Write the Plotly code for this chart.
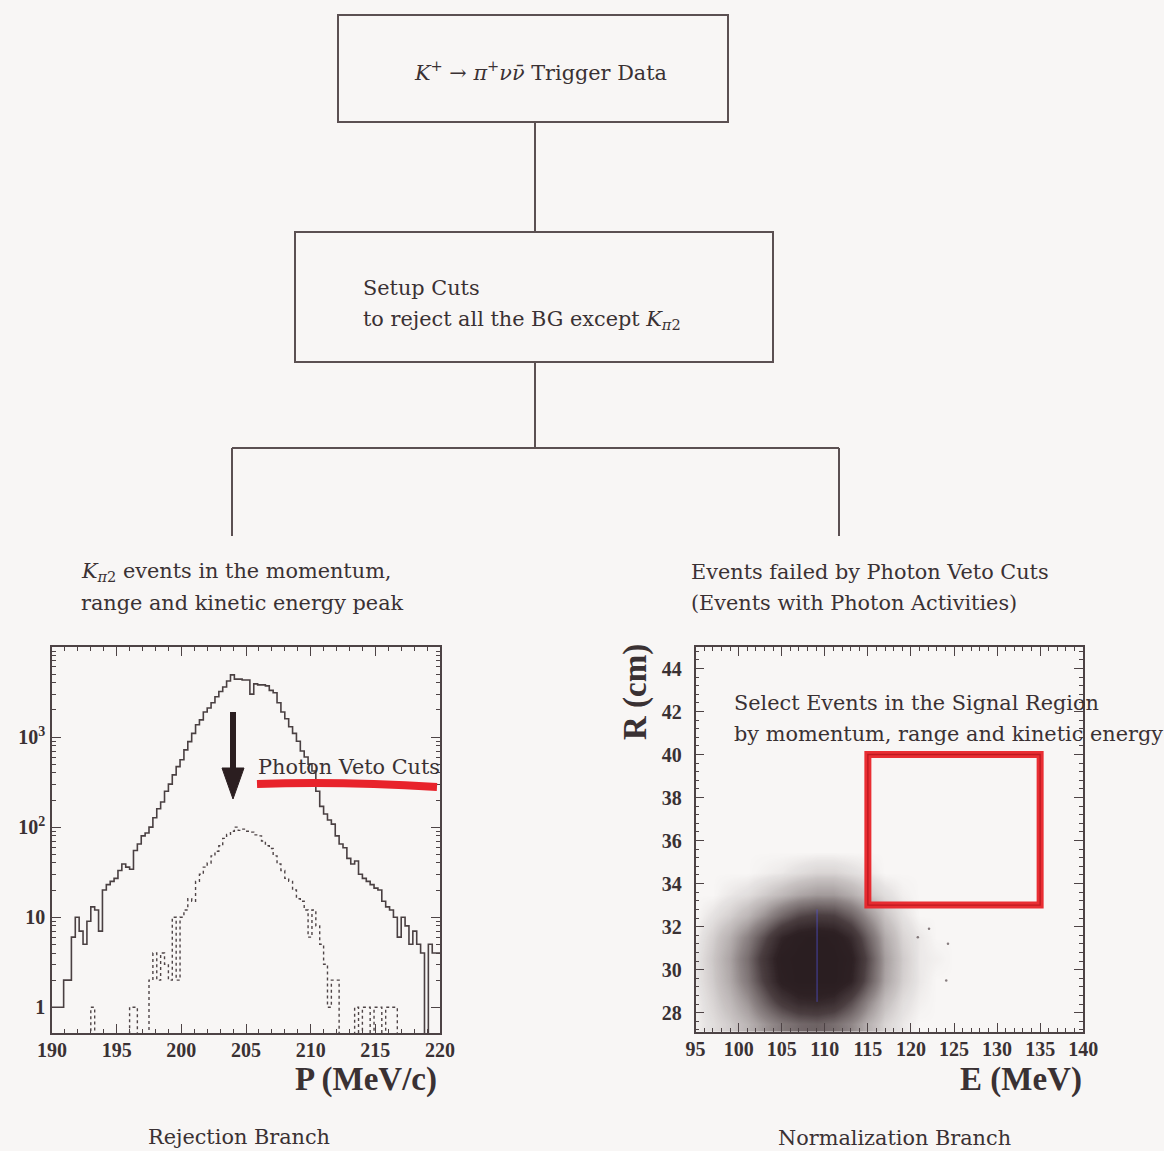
import plotly.graph_objects as go

# ---------------------------------------------------------------------------
# Data
# ---------------------------------------------------------------------------
# Momentum histogram: 100 bins of 0.3 MeV/c between 190 and 220 MeV/c
P_MIN, P_BIN = 190.0, 0.3
# K_pi2 peak before the photon veto cuts (counts per bin)
K_PI2_ALL = [
    1, 1, 1, 2, 2, 6, 10, 7, 5, 9,
    13, 12, 7, 20, 23, 25, 27, 33, 39, 36,
    34, 55, 65, 80, 86, 100, 127, 160, 190, 250,
    300, 380, 470, 560, 720, 890, 1100, 1370, 1550, 1900,
    2100, 2400, 2800, 3200, 3600, 4200, 4900, 4400, 4400, 4300,
    4300, 3000, 3900, 3800, 3800, 3700, 3300, 3100, 2400, 1900,
    1600, 1300, 1100, 900, 700, 600, 500, 420, 250, 170,
    140, 120, 108, 80, 65, 59, 45, 39, 42, 30,
    27, 25, 23, 21, 20, 15, 13, 12, 10, 6,
    10, 8, 5, 7, 5, 4, 0, 5, 4, 4,
]
# Events surviving the photon veto cuts (counts per bin)
K_PI2_PV = [
    0, 0, 0, 0, 0, 0, 0, 0, 0, 0,
    1, 0, 0, 0, 0, 0, 0, 0, 0, 0,
    1, 1, 0, 0, 0, 2, 4, 2, 4, 3,
    2, 10, 2, 10, 12, 16, 15, 25, 30, 36,
    40, 48, 54, 62, 75, 83, 90, 100, 92, 95,
    90, 88, 82, 80, 70, 62, 58, 48, 39, 33,
    27, 25, 20, 16, 15, 12, 6, 12, 8, 5,
    3, 1, 2, 2, 0, 0, 0, 0, 1, 0,
    1, 1, 0, 1, 1, 0, 1, 1, 1, 0,
    0, 0, 0, 0, 0, 0, 0, 0, 0, 0,
]

# Normalization branch: relative event density in the (E, R) plane
E_CENTERS = [95, 97, 99, 101, 103, 105, 107, 109, 111, 113, 115, 117, 119, 121, 123, 125]
R_CENTERS = [27.5, 28.5, 29.5, 30.5, 31.5, 32.5, 33.5, 34.5, 35.5]
DENSITY = [
    [0.01, 0.04, 0.08, 0.15, 0.25, 0.35, 0.42, 0.45, 0.40, 0.30, 0.16, 0.06, 0.02, 0, 0, 0],
    [0.01, 0.06, 0.13, 0.25, 0.45, 0.65, 0.78, 0.80, 0.75, 0.55, 0.30, 0.12, 0.04, 0.01, 0, 0],
    [0.02, 0.08, 0.18, 0.36, 0.62, 0.90, 1.00, 1.00, 1.00, 0.85, 0.50, 0.20, 0.07, 0.02, 0, 0],
    [0.02, 0.09, 0.20, 0.40, 0.68, 0.95, 1.00, 1.00, 1.00, 0.90, 0.55, 0.22, 0.08, 0.02, 0.01, 0],
    [0.01, 0.07, 0.16, 0.32, 0.55, 0.82, 0.96, 1.00, 0.96, 0.78, 0.45, 0.18, 0.06, 0.02, 0, 0],
    [0, 0.03, 0.07, 0.14, 0.26, 0.42, 0.56, 0.62, 0.60, 0.46, 0.26, 0.10, 0.03, 0, 0, 0],
    [0, 0, 0.02, 0.04, 0.08, 0.13, 0.19, 0.23, 0.23, 0.17, 0.09, 0.04, 0.01, 0, 0, 0],
    [0, 0, 0, 0, 0.01, 0.02, 0.04, 0.06, 0.06, 0.04, 0.02, 0, 0, 0, 0, 0],
    [0, 0, 0, 0, 0, 0, 0, 0, 0, 0, 0, 0, 0, 0, 0, 0],
]
# isolated events away from the main cluster
OUTLIER_E = [120.8, 122.1, 124.3, 124.1]
OUTLIER_R = [31.5, 31.9, 31.2, 29.5]
# reference line through the cluster
MARK_E = [109.1, 109.1]
MARK_R = [28.5, 32.8]
# signal region box
SIGNAL_E = [115, 135]
SIGNAL_R = [33, 40]

# Axis ticks
P_TICKS = [190, 195, 200, 205, 210, 215, 220]
COUNT_TICKS = [1, 10, 100, 1000]
COUNT_LABELS = ["1", "10", "10<sup>2</sup>", "10<sup>3</sup>"]
E_TICKS = [95, 100, 105, 110, 115, 120, 125, 130, 135, 140]
R_TICKS = [28, 30, 32, 34, 36, 38, 40, 42, 44]

# ---------------------------------------------------------------------------
# Page geometry (pixels)
# ---------------------------------------------------------------------------
W, H = 1164, 1151
BG = "#f8f6f5"
INK = "#3a3133"
FRAME = "#4d4345"
BODY = "DejaVu Serif"
BOLD = "Liberation Serif"


def px(x):
    return x / W


def py(y):
    return 1 - y / H


fig = go.Figure()

# ---------------------------------------------------------------------------
# Histogram (left)
# ---------------------------------------------------------------------------
edges = [P_MIN + P_BIN * i for i in range(len(K_PI2_ALL) + 1)]


def step(values):
    floor = 0.05  # empty bins fall below the axis
    ys = [v if v > 0 else floor for v in values]
    return edges, ys + [ys[-1]]


xs, ys = step(K_PI2_ALL)
fig.add_trace(go.Scatter(x=xs, y=ys, mode="lines", line=dict(shape="hv", color="#4a4042", width=1.6),
                         xaxis="x", yaxis="y", showlegend=False, hoverinfo="skip"))
xs, ys = step(K_PI2_PV)
fig.add_trace(go.Scatter(x=xs, y=ys, mode="lines", line=dict(shape="hv", color="#4f4547", width=1.4, dash="dot"),
                         xaxis="x", yaxis="y", showlegend=False, hoverinfo="skip"))

# ---------------------------------------------------------------------------
# E vs R density (right)
# ---------------------------------------------------------------------------
fig.add_trace(go.Heatmap(
    x=E_CENTERS, y=R_CENTERS, z=DENSITY, zsmooth="best", zmin=0, zmax=1,
    colorscale=[[0, "rgba(60,44,46,0)"], [0.03, "rgba(60,44,46,0.1)"], [0.1, "rgba(58,42,44,0.25)"],
                [0.3, "rgba(55,40,42,0.55)"], [0.6, "rgba(50,36,39,0.88)"], [0.85, "rgb(46,33,36)"],
                [1, "rgb(42,30,33)"]],
    showscale=False, xaxis="x2", yaxis="y2", hoverinfo="skip"))
fig.add_trace(go.Scatter(x=OUTLIER_E, y=OUTLIER_R, mode="markers",
                         marker=dict(size=2.5, color="rgba(60,45,48,0.6)"),
                         xaxis="x2", yaxis="y2", showlegend=False, hoverinfo="skip"))
fig.add_trace(go.Scatter(x=MARK_E, y=MARK_R, mode="lines", line=dict(color="rgba(80,80,210,0.75)", width=1),
                         xaxis="x2", yaxis="y2", showlegend=False, hoverinfo="skip"))

# ---------------------------------------------------------------------------
# Axes
# ---------------------------------------------------------------------------
tickfont = dict(family=BOLD, size=20, color=INK, weight="bold")
common = dict(showline=True, linecolor=FRAME, linewidth=1.5, mirror="allticks", ticks="inside",
              tickcolor=FRAME, showgrid=False, zeroline=False, tickfont=tickfont, automargin=False)

minor_counts = [m * 10 ** d for d in range(0, 4) for m in range(2, 10)]

fig.update_layout(
    width=W, height=H, margin=dict(l=0, r=0, t=0, b=0, pad=0, autoexpand=False),
    paper_bgcolor=BG, plot_bgcolor=BG, showlegend=False,
    xaxis=dict(domain=[px(52), px(440)], anchor="y", range=[190, 220], tickvals=P_TICKS,
               ticklen=9, ticklabelstandoff=-2,
               minor=dict(dtick=1, ticks="inside", ticklen=4, tickcolor=FRAME), **common),
    yaxis=dict(domain=[py(1033), py(647)], anchor="x", type="log", range=[-0.286, 4.0],
               tickvals=COUNT_TICKS, ticktext=COUNT_LABELS, ticklen=9, ticklabelstandoff=1,
               minor=dict(tickvals=minor_counts, ticks="inside", ticklen=4, tickcolor=FRAME), **common),
    xaxis2=dict(domain=[px(695.6), px(1083.2)], anchor="y2", range=[95, 140], tickvals=E_TICKS,
                ticklen=9, ticklabelstandoff=-2,
                minor=dict(dtick=1, ticks="inside", ticklen=4, tickcolor=FRAME), **common),
    yaxis2=dict(domain=[py(1032), py(647)], anchor="x2", range=[27.1, 45.0], tickvals=R_TICKS,
                ticklen=9, ticklabelstandoff=8,
                minor=dict(dtick=0.4, ticks="inside", ticklen=4, tickcolor=FRAME), **common),
)

# ---------------------------------------------------------------------------
# Flowchart boxes and connectors
# ---------------------------------------------------------------------------
shapes = []
line_style = dict(color="#5b5052", width=2)


def box(x0, y0, x1, y1):
    shapes.append(dict(type="rect", xref="paper", yref="paper", x0=px(x0), y0=py(y1), x1=px(x1), y1=py(y0),
                       line=line_style, fillcolor="rgba(0,0,0,0)"))


def seg(x0, y0, x1, y1, **kw):
    shapes.append(dict(type="line", xref="paper", yref="paper", x0=px(x0), y0=py(y0), x1=px(x1), y1=py(y1),
                       line=kw.get("line", line_style)))


box(338, 15, 728, 122)
box(295, 232, 773, 362)
seg(535, 122, 535, 232)
seg(535, 362, 535, 448)
seg(232, 448, 839, 448)
seg(232, 448, 232, 536)
seg(839, 448, 839, 536)

# arrow towards the veto-cut histogram
seg(233, 712, 233, 775, line=dict(color="#2b1e20", width=6))
shapes.append(dict(type="path", xref="paper", yref="paper",
                   path=f"M {px(222)},{py(768)} L {px(244)},{py(768)} L {px(233)},{py(799)} Z",
                   fillcolor="#2b1e20", line=dict(color="#2b1e20", width=1)))

# red underline of the veto label
shapes.append(dict(type="path", xref="paper", yref="paper",
                   path=f"M {px(257)},{py(784)} Q {px(340)},{py(781)} {px(437)},{py(787)}",
                   line=dict(color="#e8232b", width=8)))

# signal region box
for w, c in [(7, "rgba(232,35,40,0.95)"), (1.4, "rgba(180,20,28,0.8)")]:
    shapes.append(dict(type="rect", xref="x2", yref="y2", x0=SIGNAL_E[0], x1=SIGNAL_E[1],
                       y0=SIGNAL_R[0], y1=SIGNAL_R[1], line=dict(color=c, width=w)))

fig.update_layout(shapes=shapes)

# ---------------------------------------------------------------------------
# Text
# ---------------------------------------------------------------------------
ann = []
body = dict(family=BODY, size=20.8, color=INK)


def text(x, y, s, anchor="left", font=body, angle=0):
    ann.append(dict(x=px(x), y=py(y), xref="paper", yref="paper", text=s, showarrow=False,
                    xanchor=anchor, yanchor="middle", font=font, textangle=angle))


text(540, 71, "<i>K</i><sup>+</sup> → <i>π</i><sup>+</sup><i>ν</i><i>ν̄</i> Trigger Data", anchor="center")
text(361, 288, "Setup Cuts")
text(361, 320, "to reject all the BG except <i>K</i><sub><i>π</i>2</sub>")
text(79, 572, "<i>K</i><sub><i>π</i>2</sub> events in the momentum,")
text(79, 603, "range and kinetic energy peak")
text(689, 572, "Events failed by Photon Veto Cuts")
text(689, 603, "(Events with Photon Activities)")
text(256, 767, "Photon Veto Cuts")
text(732, 703, "Select Events in the Signal Region")
text(732, 734, "by momentum, range and kinetic energy")
text(239, 1137, "Rejection Branch", anchor="center")
text(894, 1138, "Normalization Branch", anchor="center")

title_font = dict(family=BOLD, size=33, color=INK, weight="bold")
text(439, 1079, "P (MeV/c)", anchor="right", font=title_font)
text(1084, 1079, "E (MeV)", anchor="right", font=title_font)
text(635, 692, "R (cm)", anchor="center", font=title_font, angle=-90)

fig.update_layout(annotations=ann)

fig.write_html("out.html")
